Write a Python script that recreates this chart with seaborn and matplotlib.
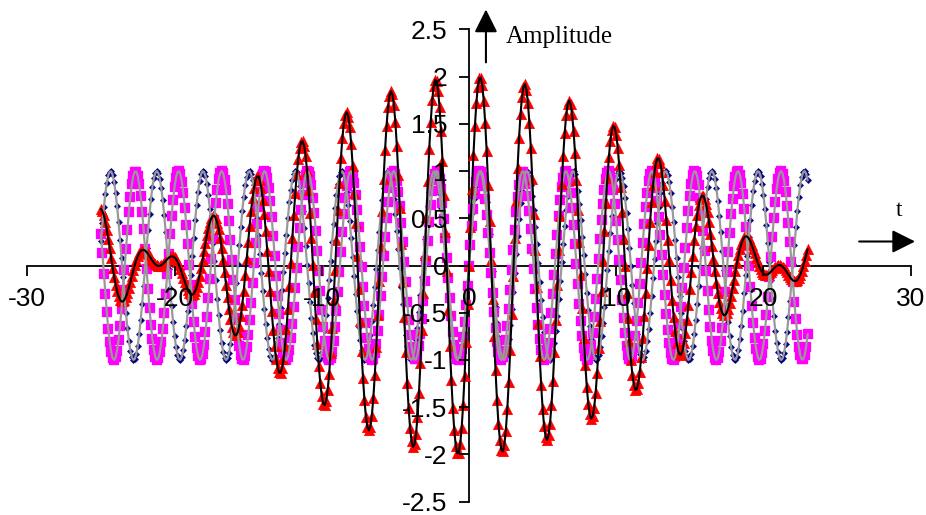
import numpy as np
import pandas as pd
import matplotlib
matplotlib.use("Agg")
import matplotlib.pyplot as plt
import seaborn as sns

# Two unit-amplitude sine waves of nearby angular frequency and their sum (beats)
t_start, t_stop, t_step = -25.0, 23.0, 0.1
omega = [2.0, 2.15]          # rad per unit time
amplitude = [1.0, 1.0]

x_ticks = [-30, -20, -10, 0, 10, 20, 30]
x_tick_labels = ["-30", "-20", "-10", "0", "10", "20", "30"]
y_ticks = [2.5, 2, 1.5, 1, 0.5, 0, -0.5, -1, -1.5, -2, -2.5]
y_tick_labels = ["2.5", "2", "1.5", "1", "0.5", "0", "-0.5", "-1", "-1.5", "-2", "-2.5"]

t = np.round(np.arange(t_start, t_stop + t_step / 2, t_step), 2)
wave1 = amplitude[0] * np.sin(omega[0] * t)
wave2 = amplitude[1] * np.sin(omega[1] * t)
df = pd.DataFrame({"t": t, "wave1": wave1, "wave2": wave2, "sum": wave1 + wave2})

sns.set_theme(style="white")
plt.rcParams["font.family"] = ["Liberation Sans", "DejaVu Sans"]
plt.rcParams["axes.unicode_minus"] = False

fig = plt.figure(figsize=(9.26, 5.15), dpi=100)
ax = fig.add_axes([27.3 / 926, 13.3 / 515, 883.4 / 926, 472.4 / 515])

# markers
sns.scatterplot(data=df, x="t", y="wave1", ax=ax, marker="D", s=11, color="#000080",
                edgecolor="#000080", linewidth=0.2, zorder=2)
sns.scatterplot(data=df, x="t", y="wave2", ax=ax, marker="s", s=52, color="#FF00FF",
                edgecolor="#FF00FF", linewidth=0.2, zorder=2)
sns.scatterplot(data=df, x="t", y="sum", ax=ax, marker="^", s=60, color="#FF0000",
                edgecolor="#FF0000", linewidth=0.2, zorder=2)
# connecting lines
sns.lineplot(data=df, x="t", y="wave1", ax=ax, color="#999999", linewidth=1.6, zorder=3,
             estimator=None, sort=False)
sns.lineplot(data=df, x="t", y="wave2", ax=ax, color="#999999", linewidth=1.6, zorder=3,
             estimator=None, sort=False)
sns.lineplot(data=df, x="t", y="sum", ax=ax, color="black", linewidth=1.5, zorder=4,
             estimator=None, sort=False)

ax.set_xlim(-30, 30)
ax.set_ylim(-2.5, 2.5)
ax.set_xlabel("")
ax.set_ylabel("")
ax.patch.set_alpha(0)

for side in ["top", "right"]:
    ax.spines[side].set_visible(False)
ax.spines["left"].set_position(("data", 0))
ax.spines["bottom"].set_position(("data", 0))
for side in ["left", "bottom"]:
    ax.spines[side].set_color("black")
    ax.spines[side].set_linewidth(1.3)
    ax.spines[side].set_zorder(1.5)

ax.set_xticks(x_ticks)
ax.set_xticklabels(x_tick_labels)
ax.set_yticks(y_ticks)
ax.set_yticklabels(y_tick_labels)
ax.tick_params(axis="both", direction="out", length=7.2, width=1.3, color="black",
               labelsize=19, labelcolor="black")
ax.tick_params(axis="y", pad=8.5, left=True)
ax.tick_params(axis="x", pad=8.5, bottom=True)
ax.xaxis.set_zorder(6)
ax.yaxis.set_zorder(6)

# axis arrows and names
arrow_style = "-|>,head_length=14,head_width=7"
ax.annotate("", xy=(1.15, 2.71), xytext=(1.15, 2.15), annotation_clip=False,
            arrowprops=dict(arrowstyle=arrow_style, mutation_scale=1, color="black",
                            linewidth=1.5, shrinkA=0, shrinkB=0))
ax.text(2.5, 2.42, "Amplitude", family=["Liberation Serif", "DejaVu Serif"], fontsize=18,
        ha="left", va="center", color="black")
ax.annotate("", xy=(30.3, 0.254), xytext=(26.5, 0.254), annotation_clip=False,
            arrowprops=dict(arrowstyle=arrow_style, mutation_scale=1, color="black",
                            linewidth=1.5, shrinkA=0, shrinkB=0))
ax.text(29.2, 0.58, "t", family=["Liberation Serif", "DejaVu Serif"], fontsize=17,
        ha="center", va="center", color="black")

fig.savefig("out.png", dpi=100)
